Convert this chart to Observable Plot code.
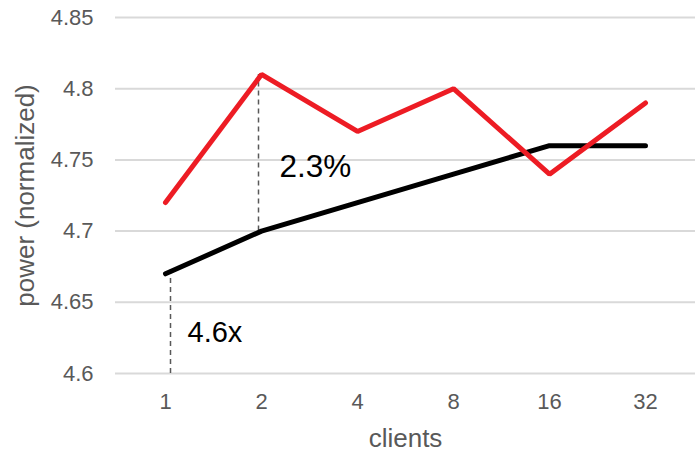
<!DOCTYPE html>
<html>
<head>
<meta charset="utf-8">
<script src="https://cdn.jsdelivr.net/npm/d3@7"></script>
<script src="https://cdn.jsdelivr.net/npm/@observablehq/plot@0.6"></script>
<style>
  html, body { margin: 0; padding: 0; background: #fff; }
  #chart svg { display: block; }
</style>
</head>
<body>
<div id="chart"></div>
<script>
// Client counts along the x axis
const clients = ["1", "2", "4", "8", "16", "32"];
// Normalized power for the two configurations
const powerRed = [4.72, 4.81, 4.77, 4.80, 4.74, 4.79];
const powerBlack = [4.67, 4.70, 4.72, 4.74, 4.76, 4.76];
const yTicks = [4.6, 4.65, 4.7, 4.75, 4.8, 4.85];

// Dashed call-outs: from the lower value to the upper one at a client count
const gapClient = ["1", "2"];
const gapLow = [4.6, 4.70];
const gapHigh = [4.67, 4.81];
// Call-out labels (top of the text sits at the given value)
const noteText = ["4.6x", "2.3%"];
const noteClient = ["1", "2"];
const noteY = [4.6365, 4.754];

const redData = clients.map((c, i) => ({client: c, power: powerRed[i]}));
const blackData = clients.map((c, i) => ({client: c, power: powerBlack[i]}));
const gaps = gapClient.map((c, i) => ({client: c, y1: gapLow[i], y2: gapHigh[i]}));
const notes = noteText.map((t, i) => ({text: t, client: noteClient[i], y: noteY[i]}));

const font = "'Liberation Sans', Arial, sans-serif";
const dashed = {x: "client", y1: "y1", y2: "y2", stroke: "#595959", strokeWidth: 1.5, strokeDasharray: "5,4"};

const chart = Plot.plot({
  width: 695,
  height: 452,
  marginLeft: 115,
  marginRight: 0,
  marginTop: 17,
  marginBottom: 79,
  style: {fontFamily: font, background: "#fff", overflow: "visible"},
  x: {type: "point", domain: clients, padding: 0.5},
  y: {domain: [4.6, 4.85]},
  marks: [
    Plot.ruleY(yTicks, {stroke: "#d9d9d9", strokeWidth: 2}),
    Plot.axisY({
      ticks: yTicks, tickSize: 0, tickPadding: 22, fontSize: 22, color: "#595959",
      tickFormat: d => String(d),
      label: "power (normalized)", labelAnchor: "center", labelArrow: "none", labelOffset: 100
    }),
    Plot.axisX({
      tickSize: 0, tickPadding: 20, fontSize: 22, color: "#595959",
      label: "clients", labelAnchor: "center", labelArrow: "none", labelOffset: 73
    }),
    // dashed call-out rules, nudged beside the line vertices
    Plot.ruleX(gaps.slice(0, 1), {...dashed, dx: 5, insetBottom: 5}),
    Plot.ruleX(gaps.slice(1), {...dashed, dx: -3}),
    Plot.line(blackData, {x: "client", y: "power", stroke: "#000", strokeWidth: 5, strokeLinecap: "round", strokeLinejoin: "miter"}),
    Plot.line(redData, {x: "client", y: "power", stroke: "#ed1c24", strokeWidth: 5, strokeLinecap: "round", strokeLinejoin: "miter"}),
    Plot.text(notes.slice(0, 1), {x: "client", y: "y", text: "text", dx: 22, textAnchor: "start", lineAnchor: "top", fontSize: 29, fill: "#000"}),
    Plot.text(notes.slice(1), {x: "client", y: "y", text: "text", dx: 18, textAnchor: "start", lineAnchor: "top", fontSize: 31.5, fill: "#000"})
  ]
});

// Tick labels at 22px on both axes; axis titles a little larger
chart.querySelectorAll("[aria-label='y-axis tick label'], [aria-label='x-axis tick label']").forEach(g => {
  g.setAttribute("font-size", 22);
  g.querySelectorAll("text").forEach(t => t.setAttribute("font-size", 22));
});
chart.querySelectorAll("[aria-label='y-axis label'] text, [aria-label='x-axis label'] text").forEach(t => t.setAttribute("font-size", 26));

document.getElementById("chart").appendChild(chart);
</script>
</body>
</html>
